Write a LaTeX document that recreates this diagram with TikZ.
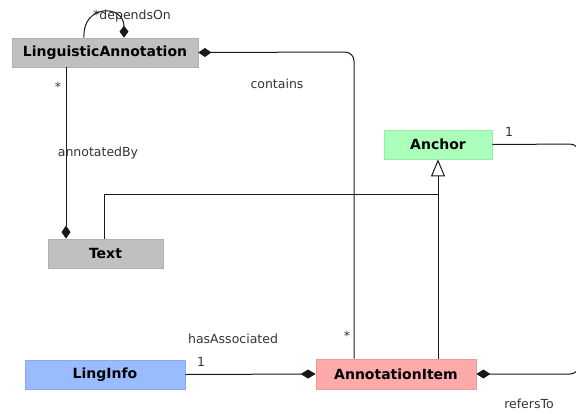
\documentclass[tikz,border=0pt]{standalone}
\usepackage{fontspec}
\setmainfont{DejaVu Sans}
\usetikzlibrary{arrows.meta}
\definecolor{grayfill}{HTML}{C0C0C0}
\definecolor{grayline}{HTML}{B0B0B0}
\definecolor{greenfill}{HTML}{AAFFBB}
\definecolor{greenline}{HTML}{9AEAAA}
\definecolor{pinkfill}{HTML}{FFAAAA}
\definecolor{pinkline}{HTML}{EA9A9A}
\definecolor{bluefill}{HTML}{99BBFF}
\definecolor{blueline}{HTML}{8AAAEA}
\definecolor{labelc}{HTML}{333333}
\begin{document}
\begin{tikzpicture}[x=1pt,y=-1pt,
  cls/.style={minimum height=29pt,inner sep=0pt,line width=0.8pt,font=\fontsize{14}{16}\selectfont\bfseries},
  lbl/.style={text=labelc,inner sep=0pt,font=\fontsize{12.5}{14}\selectfont},
  conn/.style={line width=1pt,draw=black!90}]
\useasboundingbox (0,0) rectangle (576,413);
\begin{scope}
\clip (0,0) rectangle (576,413);
% classes
\node[cls,fill=grayfill,draw=grayline,minimum width=186pt] (la) at (105,52.5) {LinguisticAnnotation};
\node[cls,fill=grayfill,draw=grayline,minimum width=115pt] (tx) at (105.5,253.5) {Text};
\node[cls,fill=greenfill,draw=greenline,minimum width=108pt] (an) at (438,144.5) {Anchor};
\node[cls,fill=bluefill,draw=blueline,minimum width=160pt] (li) at (105,374.5) {LingInfo};
\node[cls,fill=pinkfill,draw=pinkline,minimum width=160pt,minimum height=30pt] (ai) at (396,374) {AnnotationItem};
% coordinates
\coordinate (laLoopA) at ([xshift=-21pt]la.north);
\coordinate (laLoopB) at ([xshift=19pt]la.north);
\coordinate (laBot) at ([xshift=-39pt]la.south);
\coordinate (txTopL) at ([xshift=-39.5pt]tx.north);
\coordinate (txTopR) at ([xshift=-1.5pt]tx.north);
\coordinate (aiTopL) at ([xshift=-42pt]ai.north);
\coordinate (aiTopR) at ([xshift=42pt]ai.north);
\coordinate (junc) at (438,194);
% connectors
\draw[conn,-{Diamond[length=12pt,width=9pt]}] (laLoopA) .. controls (82,4) and (124,4) .. (laLoopB);
\draw[conn,{Diamond[length=13pt,width=9pt]}-,rounded corners=9pt] (la.east) -- (354,52) -- (aiTopL);
\draw[conn,-{Diamond[length=13pt,width=9pt]}] (laBot) -- (txTopL);
\draw[conn] (txTopR) -- (104,194) -- (junc);
\draw[conn,-{Triangle[open,length=17pt,width=14pt,fill=white]}] (aiTopR) -- (an.south);
\draw[conn,-{Diamond[length=14pt,width=9pt]},rounded corners=9pt] (an.east) -- (579,144) -- (579,374) -- (ai.east);
\draw[conn,-{Diamond[length=15pt,width=9pt]}] (li.east) -- (ai.west);
\end{scope}
% labels
\node[lbl,anchor=west] (lDep) at (93,16) {*dependsOn};
\node[lbl] (lCont) at (277,84) {contains};
\node[lbl] (lStar1) at (58,87) {*};
\node[lbl] (lAnn) at (98,153) {annotatedBy};
\node[lbl] (lOne1) at (509,132) {1};
\node[lbl] (lHas) at (233,339) {hasAssociated};
\node[lbl] (lOne2) at (201,362) {1};
\node[lbl] (lStar2) at (347,336) {*};
\node[lbl] (lRef) at (529,404) {refersTo};
\end{tikzpicture}
\end{document}
